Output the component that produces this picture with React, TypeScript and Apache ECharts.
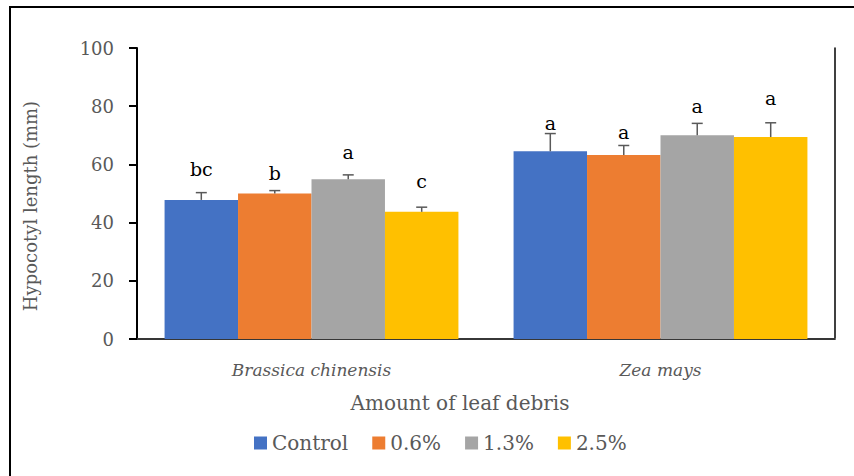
import React, { useEffect, useRef } from "react";
import * as echarts from "echarts";

const categories = ["Brassica chinensis", "Zea mays"];
const seriesNames = ["Control", "0.6%", "1.3%", "2.5%"];
const colors = ["#4472C4", "#ED7D31", "#A5A5A5", "#FFC000"];
const means = [
  [47.8, 64.5],
  [50.0, 63.2],
  [54.9, 70.0],
  [43.7, 69.4],
];
const errors = [
  [2.5, 6.1],
  [1.0, 3.3],
  [1.5, 4.1],
  [1.6, 4.9],
];
const letters = [
  ["bc", "a"],
  ["b", "a"],
  ["a", "a"],
  ["c", "a"],
];
const letterPos = [
  [58.4, 74.2],
  [57.0, 71.1],
  [64.3, 80.1],
  [54.3, 82.8],
];

const FONT = "DejaVu Serif";
const GAP = 0.158;

export default function App() {
  const ref = useRef<HTMLDivElement>(null);
  useEffect(() => {
    if (!ref.current) return;
    const chart = echarts.init(ref.current, null, { renderer: "svg" });
    const errData: any[] = [];
    means.forEach((row, s) =>
      row.forEach((m, c) => {
        errData.push([c, s, m, errors[s][c], letterPos[s][c]]);
      })
    );
    const option: any = {
      animation: false,
      backgroundColor: "#ffffff",
      grid: { left: 137, top: 48, right: 19, bottom: 137, containLabel: false },
      graphic: [
        {
          type: "rect",
          shape: { x: 10, y: 7, width: 900, height: 520 },
          style: { fill: "none", stroke: "#000", lineWidth: 2 },
          silent: true,
        },
        {
          type: "text",
          x: 30,
          y: 206,
          rotation: Math.PI / 2,
          style: {
            text: "Hypocotyl length (mm)",
            fontFamily: FONT,
            fontSize: 18,
            fill: "#595959",
            align: "center",
            verticalAlign: "middle",
          },
        },
        {
          type: "text",
          x: 460,
          y: 403,
          style: {
            text: "Amount of leaf debris",
            fontFamily: FONT,
            fontSize: 20,
            fill: "#595959",
            align: "center",
            verticalAlign: "middle",
          },
        },
      ],
      legend: {
        data: seriesNames,
        left: 249,
        top: 428,
        icon: "rect",
        itemWidth: 13,
        itemHeight: 13,
        itemGap: 24,
        textStyle: { fontFamily: FONT, fontSize: 20, color: "#595959" },
      },
      xAxis: [
        {
          type: "category",
          data: categories,
          axisLine: { lineStyle: { color: "#D9D9D9", width: 2 } },
          axisTick: { show: false },
          axisLabel: {
            fontFamily: FONT,
            fontStyle: "italic",
            fontSize: 17,
            color: "#595959",
            margin: 22,
          },
        },
        {
          type: "category",
          position: "top",
          data: categories,
          axisLine: { lineStyle: { color: "#000", width: 1.5 } },
          axisTick: { show: false },
          axisLabel: { show: false },
        },
      ],
      yAxis: [
        {
          type: "value",
          min: 0,
          max: 100,
          interval: 20,
          axisLine: { show: true, lineStyle: { color: "#000", width: 2 } },
          axisTick: { show: true, length: 8, lineStyle: { color: "#000", width: 2 } },
          splitLine: { show: false },
          axisLabel: { fontFamily: FONT, fontSize: 18, color: "#595959", margin: 23 },
        },
        {
          type: "value",
          position: "right",
          min: 0,
          max: 100,
          interval: 20,
          axisLine: { show: true, lineStyle: { color: "#000", width: 1.5 } },
          axisTick: { show: false },
          splitLine: { show: false },
          axisLabel: { show: false },
        },
      ],
      series: [
        ...seriesNames.map((name, s) => ({
          name,
          type: "bar",
          data: means[s],
          itemStyle: { color: colors[s] },
          barGap: "0%",
          barCategoryGap: `${GAP * 100}%`,
          xAxisIndex: 0,
          yAxisIndex: 0,
        })),
        {
          type: "custom",
          xAxisIndex: 0,
          yAxisIndex: 0,
          data: errData,
          encode: { x: 0, y: 2 },
          z: 10,
          renderItem: (params: any, api: any) => {
            const c = api.value(0);
            const s = api.value(1);
            const m = api.value(2);
            const e = api.value(3);
            const lp = api.value(4);
            const catW = api.size([1, 0])[0];
            const groupW = catW * (1 - GAP);
            const bw = groupW / 4;
            const center = api.coord([c, m]);
            const x = center[0] - groupW / 2 + bw * (s + 0.5);
            const yM = center[1];
            const yT = api.coord([c, m + e])[1];
            const yL = api.coord([c, lp])[1];
            const style = { stroke: "#595959", lineWidth: 1.5 };
            return {
              type: "group",
              children: [
                { type: "line", shape: { x1: x, y1: yM, x2: x, y2: yT }, style },
                { type: "line", shape: { x1: x - 5.5, y1: yT, x2: x + 5.5, y2: yT }, style },
                {
                  type: "text",
                  x,
                  y: yL,
                  style: {
                    text: letters[s][c],
                    fontFamily: FONT,
                    fontSize: 19,
                    fill: "#000",
                    align: "center",
                    verticalAlign: "middle",
                  },
                },
              ],
            };
          },
        },
      ],
    };
    chart.setOption(option);
    return () => chart.dispose();
  }, []);
  return (
    <div
      ref={ref}
      style={{ position: "absolute", left: 0, top: 0, width: 854, height: 476 }}
    />
  );
}
